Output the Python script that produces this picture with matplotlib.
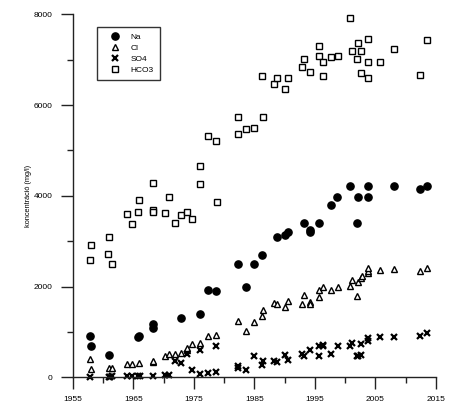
import matplotlib
matplotlib.use("Agg")
import matplotlib.pyplot as plt
from matplotlib.ticker import MultipleLocator

plt.rcParams['font.family'] = ['Liberation Sans', 'DejaVu Sans']

na_years = [1957.9, 1958.0, 1961.0, 1965.8, 1966.0, 1968.3, 1968.3, 1972.9, 1976.1, 1977.4,
            1978.7, 1982.3, 1983.6, 1984.9, 1986.2, 1988.7, 1990.1, 1990.6, 1993.2, 1994.2,
            1994.2, 1995.6, 1997.6, 1998.7, 2000.8, 2001.9, 2002.1, 2003.8, 2003.8, 2008.1,
            2012.3, 2013.5]
na_values = [900, 690, 490, 880, 900, 1180, 1080, 1310, 1400, 1920,
             1900, 2500, 1980, 2500, 2700, 3100, 3140, 3200, 3400, 3250,
             3200, 3400, 3800, 3970, 4220, 3400, 3970, 4220, 3970, 4220,
             4150, 4220]

cl_years = [1957.9, 1958.0, 1961.0, 1961.5, 1963.9, 1964.8, 1965.9, 1968.3, 1968.3, 1970.3,
            1970.9, 1971.9, 1972.9, 1973.8, 1973.8, 1974.7, 1976.1, 1977.4, 1978.7, 1982.3,
            1983.6, 1984.9, 1986.2, 1986.5, 1988.2, 1988.7, 1990.1, 1990.6, 1992.8, 1993.2,
            1994.2, 1994.2, 1995.6, 1995.7, 1996.3, 1997.6, 1998.8, 2000.8, 2001.2, 2001.9,
            2002.1, 2002.6, 2002.7, 2003.8, 2003.8, 2003.8, 2005.8, 2008.1, 2012.3, 2013.5]
cl_values = [400, 180, 200, 210, 300, 300, 320, 340, 370, 460,
             510, 520, 540, 600, 650, 730, 760, 920, 930, 1250,
             1030, 1220, 1355, 1480, 1630, 1620, 1540, 1680, 1620, 1810,
             1670, 1610, 1780, 1930, 1990, 1920, 1980, 2010, 2150, 1800,
             2110, 2180, 2240, 2290, 2350, 2400, 2370, 2390, 2350, 2400]

so4_years = [1957.9, 1961.0, 1961.2, 1961.5, 1963.9, 1964.8, 1965.8, 1966.1, 1968.3, 1970.3,
             1970.9, 1971.9, 1972.9, 1973.8, 1974.7, 1976.1, 1976.1, 1977.4, 1978.7, 1978.7,
             1982.3, 1982.3, 1983.6, 1984.9, 1986.2, 1986.5, 1988.2, 1988.7, 1990.1, 1990.6,
             1992.8, 1993.2, 1994.2, 1995.6, 1995.7, 1996.3, 1996.3, 1997.6, 1998.8, 2000.8,
             2001.2, 2001.9, 2002.1, 2002.6, 2002.6, 2003.8, 2003.8, 2005.8, 2008.1, 2012.3,
             2013.5]
so4_values = [10, 10, 0, 20, 30, 30, 30, 30, 30, 50,
              50, 360, 310, 510, 150, 600, 80, 90, 110, 680,
              260, 200, 160, 470, 280, 350, 360, 340, 490, 380,
              520, 470, 600, 480, 680, 720, 680, 520, 700, 680,
              750, 470, 460, 500, 730, 810, 860, 890, 890, 920,
              980]

hco3_years = [1957.8, 1958.0, 1960.9, 1961.0, 1961.5, 1963.9, 1964.8, 1965.8, 1965.9, 1968.2,
              1968.2, 1968.3, 1970.3, 1970.9, 1971.9, 1972.9, 1973.8, 1974.7, 1976.1, 1976.1,
              1977.4, 1978.6, 1978.8, 1982.3, 1982.3, 1983.6, 1984.9, 1986.2, 1986.5, 1988.2,
              1988.7, 1990.1, 1990.5, 1992.8, 1993.2, 1994.2, 1995.6, 1995.7, 1996.3, 1996.3,
              1997.6, 1998.8, 2000.8, 2001.2, 2001.9, 2002.1, 2002.6, 2002.6, 2003.8, 2003.8,
              2003.8, 2005.8, 2008.1, 2012.3, 2013.5]
hco3_values = [2590, 2920, 2720, 3100, 2500, 3610, 3380, 3650, 3900, 3680,
               3640, 4290, 3630, 3980, 3410, 3570, 3650, 3480, 4650, 4270,
               5310, 5220, 3870, 5740, 5370, 5470, 5500, 6650, 5740, 6470,
               6600, 6350, 6600, 6840, 7020, 6720, 7300, 7080, 6960, 6650,
               7070, 7080, 7930, 7200, 7020, 7380, 7200, 6710, 7450, 6960,
               6600, 6950, 7240, 6660, 7430]

x_ticks = [1955, 1965, 1975, 1985, 1995, 2005, 2015]
y_ticks = [0, 2000, 4000, 6000, 8000]
ylabel = "koncentráció (mg/l)"

fig = plt.figure(figsize=(4.57, 4.13), dpi=100)
ax = fig.add_axes([72.7 / 457, (413 - 377.3) / 413, 363.3 / 457, 362.9 / 413])

lw = 1.0
ax.plot(na_years, na_values, 'o', color='black', markersize=5.2, label='Na', clip_on=False)
ax.plot(cl_years, cl_values, '^', markerfacecolor='white', markeredgecolor='black',
        markeredgewidth=1.0, markersize=4.8, label='Cl', clip_on=False)
ax.plot(so4_years, so4_values, 'x', color='black', markeredgewidth=1.6, markersize=4.0,
        label='SO4', clip_on=False)
ax.plot(hco3_years, hco3_values, 's', markerfacecolor='white', markeredgecolor='black',
        markeredgewidth=1.0, markersize=4.6, label='HCO3', clip_on=False)

ax.set_xlim(1955, 2015)
ax.set_ylim(0, 8000)
ax.set_xticks(x_ticks)
ax.set_yticks(y_ticks)
ax.xaxis.set_minor_locator(MultipleLocator(5))
ax.yaxis.set_minor_locator(MultipleLocator(1000))

for s in ['top', 'right']:
    ax.spines[s].set_visible(False)
for s in ['left', 'bottom']:
    ax.spines[s].set_linewidth(lw)
    ax.spines[s].set_color('#222222')

ax.tick_params(which='major', direction='out', length=8.6, width=lw, color='#222222',
               labelsize=6, pad=5.2)
ax.tick_params(which='minor', direction='out', length=4.3, width=lw, color='#222222')
ax.tick_params(axis='y', pad=5.8)

ax.set_ylabel(ylabel, fontsize=5.3, labelpad=1)

leg = ax.legend(loc='upper left', bbox_to_anchor=(0.067, 0.965), fontsize=6,
                frameon=True, fancybox=False, borderaxespad=0, borderpad=0.75,
                handlelength=2.8, handletextpad=0.5, labelspacing=0.36, numpoints=1)
leg.get_frame().set_edgecolor('black')
leg.get_frame().set_linewidth(1.0)

fig.savefig('out.png', dpi=100)
